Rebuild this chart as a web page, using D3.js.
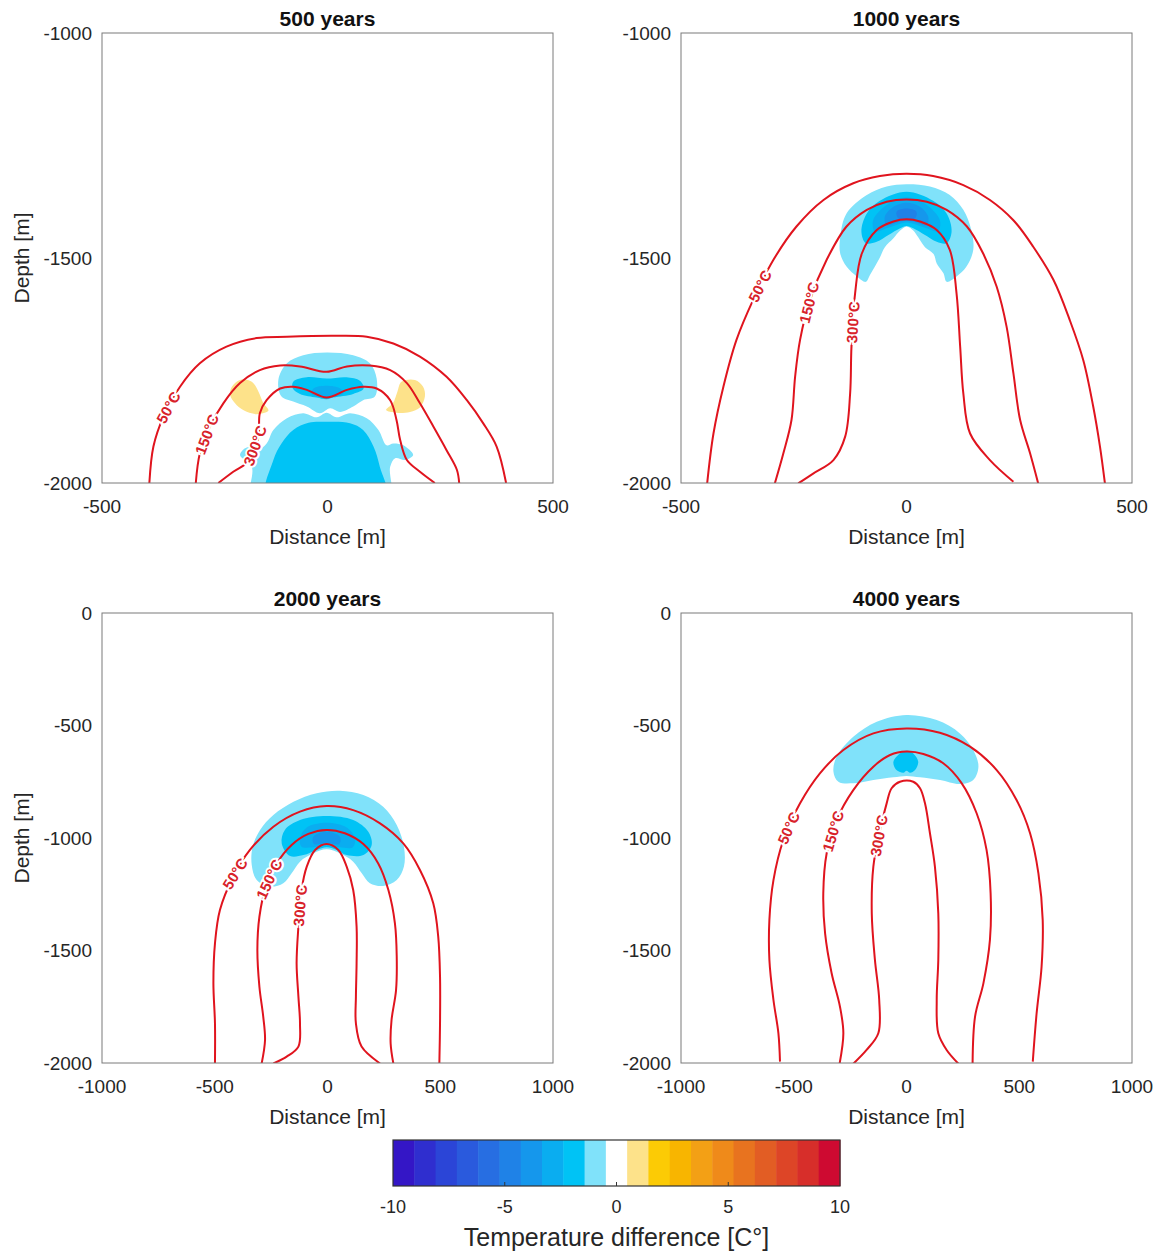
<!DOCTYPE html>
<html>
<head>
<meta charset="utf-8">
<script src="https://cdn.jsdelivr.net/npm/d3@7"></script>
<style>
body { margin: 0; background: #fff; }
svg { font-family: "Liberation Sans", Arial, sans-serif; }
</style>
</head>
<body>
<svg id="fig" width="1164" height="1253"></svg>
<script>
// ---- data (x in m, depth in m) ----
const titles = ['500 years', '1000 years', '2000 years', '4000 years'];
const xDomains = [[-500, 500], [-500, 500], [-1000, 1000], [-1000, 1000]];
const yDomains = [[-2000, -1000], [-2000, -1000], [-2000, 0], [-2000, 0]];
const xTicks = [[-500, 0, 500], [-500, 0, 500], [-1000, -500, 0, 500, 1000], [-1000, -500, 0, 500, 1000]];
const yTicks = [[-2000, -1500, -1000], [-2000, -1500, -1000], [-2000, -1500, -1000, -500, 0], [-2000, -1500, -1000, -500, 0]];
const isoLevels = [50, 150, 300];

// isotherms, 500 years
const c50_y500 = [[-395,-2000],[-386,-1919],[-364,-1853],[-327,-1786],[-283,-1734],[-224,-1697],[-157,-1678],[-90,-1675],[13,-1673],[87,-1675],[146,-1690],[205,-1719],[264,-1764],[309,-1816],[345,-1867],[375,-1919],[396,-2000]];
const c150_y500 = [[-292,-2000],[-283,-1934],[-261,-1875],[-231,-1823],[-194,-1778],[-150,-1749],[-105,-1739],[-61,-1741],[-2,-1753],[43,-1741],[94,-1739],[139,-1749],[176,-1778],[205,-1823],[235,-1875],[264,-1927],[287,-1971],[292,-2000]];
const c300_y500 = [[-242,-2000],[-209,-1975],[-172,-1949],[-153,-1897],[-150,-1845],[-135,-1816],[-105,-1790],[-76,-1786],[-46,-1793],[-2,-1810],[43,-1793],[79,-1786],[109,-1790],[139,-1816],[153,-1860],[161,-1904],[176,-1949],[205,-1975],[238,-2000]];

// isotherms, 1000 years
const c50_y1000 = [[-442,-2001],[-428,-1890],[-406,-1786],[-377,-1682],[-340,-1593],[-295,-1504],[-244,-1430],[-184,-1371],[-118,-1334],[-59,-1318],[0,-1313],[59,-1318],[126,-1338],[185,-1371],[237,-1416],[281,-1475],[326,-1549],[362,-1638],[392,-1727],[414,-1830],[429,-1919],[440,-2001]];
const c150_y1000 = [[-292,-2001],[-273,-1934],[-255,-1860],[-247,-1764],[-236,-1682],[-214,-1593],[-177,-1504],[-133,-1430],[-88,-1393],[-44,-1375],[0,-1370],[45,-1375],[89,-1393],[134,-1430],[170,-1490],[200,-1564],[222,-1653],[237,-1756],[252,-1860],[274,-1934],[292,-2001]];
const c300_y1000 = [[-240,-2001],[-207,-1979],[-162,-1949],[-136,-1897],[-125,-1801],[-122,-1697],[-114,-1579],[-99,-1490],[-66,-1438],[-29,-1419],[0,-1414],[30,-1419],[67,-1438],[96,-1482],[111,-1579],[119,-1697],[126,-1801],[141,-1890],[185,-1949],[237,-1997]];

// isotherms, 2000 years
const c50_y2000 = [[-499,-2002],[-499,-1824],[-506,-1646],[-499,-1468],[-477,-1320],[-418,-1172],[-344,-1053],[-240,-950],[-122,-883],[-4,-858],[114,-876],[233,-935],[336,-1024],[410,-1142],[469,-1290],[491,-1438],[499,-1616],[499,-1824],[496,-2002]];
const c150_y2000 = [[-292,-2002],[-277,-1898],[-285,-1794],[-302,-1661],[-311,-1498],[-302,-1350],[-273,-1216],[-225,-1113],[-159,-1031],[-85,-982],[-4,-964],[77,-979],[159,-1027],[225,-1113],[270,-1231],[299,-1379],[307,-1527],[304,-1676],[284,-1809],[280,-1913],[292,-2002]];
const c300_y2000 = [[-240,-2002],[-181,-1972],[-129,-1927],[-122,-1824],[-129,-1705],[-137,-1557],[-129,-1394],[-115,-1231],[-92,-1127],[-55,-1053],[-4,-1027],[48,-1053],[85,-1127],[114,-1231],[129,-1394],[129,-1557],[126,-1705],[126,-1824],[151,-1927],[233,-2002]];

// isotherms, 4000 years
const c50_y4000 = [[-561,-1994],[-568,-1868],[-590,-1720],[-608,-1542],[-608,-1364],[-590,-1187],[-546,-1009],[-472,-846],[-384,-713],[-280,-609],[-147,-535],[0,-513],[148,-532],[282,-594],[400,-698],[488,-831],[548,-979],[585,-1157],[604,-1364],[599,-1572],[577,-1779],[560,-1994]];
const c150_y4000 = [[-298,-2010],[-280,-1868],[-295,-1750],[-332,-1601],[-361,-1424],[-369,-1246],[-354,-1068],[-310,-920],[-236,-787],[-147,-683],[-73,-631],[0,-616],[75,-627],[163,-668],[245,-757],[311,-890],[355,-1053],[373,-1246],[370,-1453],[341,-1646],[304,-1794],[293,-2010]];
const c300_y4000 = [[-243,-2010],[-177,-1942],[-125,-1868],[-121,-1720],[-140,-1542],[-154,-1335],[-147,-1127],[-117,-964],[-88,-846],[-66,-779],[-29,-750],[30,-750],[60,-779],[82,-846],[104,-979],[126,-1127],[141,-1335],[141,-1542],[134,-1720],[141,-1868],[178,-1942],[237,-2010]];

// isotherm label anchors (near the line, left flank)
const lab_y500 = [[-371,-1822],[-283,-1886],[-152,-1920]];
const lab_y1000 = [[-338,-1556],[-240,-1593],[-85,-1645]];
const lab_y2000 = [[-447,-1135],[-299,-1164],[-55,-1305]];
const lab_y4000 = [[-568,-935],[-369,-957],[-58,-1001]];

// temperature-difference patches (level in C)
const fill_y500 = [
  {level: -1, pts: [[-102,-1808],[-109,-1771],[-90,-1734],[-54,-1716],[-2,-1710],[57,-1716],[94,-1734],[109,-1768],[105,-1808],[79,-1816],[57,-1830],[28,-1842],[6,-1834],[-17,-1845],[-46,-1830],[-76,-1819]]},
  {level: -2, pts: [[-76,-1775],[-46,-1765],[-2,-1768],[42,-1765],[72,-1773],[80,-1790],[57,-1802],[13,-1810],[-2,-1814],[-24,-1810],[-61,-1802],[-77,-1790]]},
  {level: -3, pts: [[-31,-1790],[-2,-1784],[28,-1790],[35,-1801],[-2,-1810],[-35,-1802]]},
  {level: -1, pts: [[-166,-2040],[-168,-1964],[-194,-1938],[-179,-1921],[-157,-1928],[-135,-1912],[-120,-1882],[-90,-1856],[-54,-1845],[-24,-1854],[-2,-1844],[20,-1854],[50,-1845],[87,-1856],[113,-1882],[131,-1916],[146,-1912],[168,-1916],[190,-1938],[172,-1949],[150,-1945],[139,-1964],[135,-2040]]},
  {level: -2, pts: [[-135,-2040],[-120,-1949],[-102,-1912],[-76,-1882],[-42,-1866],[-2,-1864],[50,-1867],[79,-1882],[102,-1919],[116,-1964],[130,-2040]]},
  {level: 1, pts: [[-212,-1786],[-194,-1771],[-168,-1775],[-153,-1797],[-142,-1823],[-131,-1839],[-157,-1847],[-187,-1838],[-205,-1823],[-216,-1804]]},
  {level: 1, pts: [[164,-1775],[194,-1771],[212,-1786],[216,-1808],[205,-1832],[183,-1842],[153,-1844],[130,-1838],[145,-1823],[155,-1797]]}
];
const fill_y1000 = [
  {level: -1, pts: [[-147,-1453],[-133,-1401],[-88,-1360],[-44,-1341],[0,-1336],[52,-1341],[96,-1360],[126,-1393],[144,-1439],[148,-1482],[133,-1519],[111,-1541],[89,-1553],[82,-1534],[67,-1512],[60,-1491],[41,-1476],[26,-1454],[15,-1439],[0,-1430],[-14,-1439],[-29,-1456],[-48,-1476],[-59,-1499],[-70,-1519],[-81,-1538],[-90,-1553],[-110,-1541],[-133,-1519],[-147,-1490]]},
  {level: -2, pts: [[-100,-1441],[-88,-1401],[-59,-1373],[0,-1353],[59,-1373],[89,-1401],[100,-1441],[89,-1467],[67,-1464],[41,-1449],[15,-1434],[0,-1429],[-14,-1434],[-40,-1449],[-66,-1464],[-90,-1467]]},
  {level: -3, pts: [[-74,-1416],[-44,-1382],[0,-1365],[45,-1382],[74,-1416],[70,-1441],[45,-1434],[15,-1424],[0,-1421],[-14,-1424],[-44,-1434],[-70,-1441]]},
  {level: -4, pts: [[-48,-1408],[-29,-1386],[0,-1377],[30,-1386],[48,-1408],[45,-1427],[15,-1419],[0,-1417],[-14,-1419],[-44,-1427]]},
  {level: -5, pts: [[-22,-1397],[0,-1390],[22,-1397],[19,-1412],[0,-1416],[-18,-1412]]}
];
const fill_y2000 = [
  {level: -1, pts: [[-336,-1120],[-332,-1039],[-299,-964],[-240,-898],[-151,-839],[-48,-801],[55,-790],[159,-809],[247,-861],[307,-942],[339,-1039],[339,-1127],[307,-1187],[247,-1213],[188,-1201],[152,-1157],[114,-1105],[55,-1068],[-4,-1050],[-63,-1068],[-122,-1105],[-159,-1157],[-196,-1201],[-255,-1216],[-314,-1187]]},
  {level: -2, pts: [[-203,-1024],[-189,-964],[-122,-920],[-4,-902],[114,-920],[181,-972],[196,-1031],[159,-1076],[85,-1076],[41,-1053],[-4,-1041],[-48,-1053],[-107,-1076],[-166,-1080]]},
  {level: -3, pts: [[-122,-1001],[-92,-953],[-4,-932],[85,-953],[122,-1001],[112,-1041],[55,-1041],[-4,-1031],[-63,-1041],[-115,-1039]]},
  {level: -4, pts: [[-63,-994],[-4,-972],[55,-994],[52,-1027],[-4,-1021],[-60,-1027]]}
];
const fill_y4000 = [
  {level: -1, pts: [[-324,-705],[-310,-639],[-236,-550],[-132,-483],[0,-453],[134,-476],[237,-535],[296,-609],[319,-683],[296,-742],[237,-760],[149,-742],[60,-730],[0,-724],[-58,-730],[-147,-742],[-236,-757],[-302,-750]]},
  {level: -2, pts: [[-58,-661],[-29,-624],[0,-612],[30,-624],[52,-661],[38,-698],[16,-710],[0,-701],[-14,-710],[-47,-695]]}
];

// colour bar
const cbarColors = ['#3416C6','#2F2ECF','#2B45D7','#2A5ADD','#276EE2','#1F82E7','#1597EC','#0AADF0','#00C3F5','#80E2FA','#FFFFFF','#FDE28A','#FCCB05','#F8B500','#F3A015','#EF8A1A','#E8731F','#E25D24','#DD4527','#D72E2A','#CE0A31'];
const cbarTicks = [-10, -5, 0, 5, 10];

// ---- drawing ----
const svg = d3.select('#fig');
const panelW = 451, panelH = 450;
const panelPos = [[102, 33], [681, 33], [102, 613], [681, 613]];
const lineColor = '#E0141E';
const textColor = '#262626';

const colorOf = d3.scaleQuantize().domain([-10, 10]).range(cbarColors);

const panels = [
  {iso: [c50_y500, c150_y500, c300_y500], labs: lab_y500, fills: fill_y500},
  {iso: [c50_y1000, c150_y1000, c300_y1000], labs: lab_y1000, fills: fill_y1000},
  {iso: [c50_y2000, c150_y2000, c300_y2000], labs: lab_y2000, fills: fill_y2000},
  {iso: [c50_y4000, c150_y4000, c300_y4000], labs: lab_y4000, fills: fill_y4000}
];

// closest point on polyline (screen coords) + direction of that segment
function nearestOnLine(pts, p) {
  let best = null;
  for (let i = 0; i < pts.length - 1; i++) {
    const a = pts[i], b = pts[i + 1];
    const dx = b[0] - a[0], dy = b[1] - a[1];
    let t = ((p[0] - a[0]) * dx + (p[1] - a[1]) * dy) / (dx * dx + dy * dy);
    t = Math.max(0, Math.min(1, t));
    const q = [a[0] + t * dx, a[1] + t * dy];
    const dist = Math.hypot(q[0] - p[0], q[1] - p[1]);
    if (!best || dist < best.dist) {
      let ang = Math.atan2(dy, dx) * 180 / Math.PI;
      if (ang >= 90) ang -= 180;
      if (ang < -90) ang += 180;
      best = {q: q, dist: dist, ang: ang};
    }
  }
  return best;
}

panels.forEach((p, i) => {
  const [left, top] = panelPos[i];
  const x = d3.scaleLinear().domain(xDomains[i]).range([0, panelW]);
  const y = d3.scaleLinear().domain(yDomains[i]).range([panelH, 0]);

  const g = svg.append('g').attr('transform', `translate(${left},${top})`);

  g.append('clipPath').attr('id', 'clip' + i)
    .append('rect').attr('width', panelW).attr('height', panelH);

  const inner = g.append('g').attr('clip-path', `url(#clip${i})`);

  const area = d3.line().x(d => x(d[0])).y(d => y(d[1])).curve(d3.curveCatmullRomClosed.alpha(0.5));
  inner.selectAll('.patch')
    .data(p.fills)
    .join('path')
    .attr('class', 'patch')
    .attr('d', d => area(d.pts))
    .attr('fill', d => colorOf(d.level))
    .attr('stroke', 'none');

  const line = d3.line().x(d => x(d[0])).y(d => y(d[1])).curve(d3.curveCatmullRom.alpha(0.5));
  inner.selectAll('.iso')
    .data(p.iso)
    .join('path')
    .attr('class', 'iso')
    .attr('d', d => line(d))
    .attr('fill', 'none')
    .attr('stroke', lineColor)
    .attr('stroke-width', 2);

  // isotherm labels
  p.labs.forEach((lp, k) => {
    const scr = p.iso[k].map(d => [x(d[0]), y(d[1])]);
    const hit = nearestOnLine(scr, [x(lp[0]), y(lp[1])]);
    inner.append('text')
      .attr('transform', `translate(${hit.q[0]},${hit.q[1]}) rotate(${hit.ang})`)
      .attr('text-anchor', 'middle')
      .attr('dy', '0.35em')
      .style('font-size', '15px')
      .style('font-weight', 'bold')
      .style('fill', '#D8222A')
      .style('stroke', '#fff')
      .style('stroke-width', 4)
      .style('paint-order', 'stroke')
      .text(isoLevels[k] + '°C');
  });

  // box
  g.append('rect')
    .attr('width', panelW).attr('height', panelH)
    .attr('fill', 'none').attr('stroke', '#7a7a7a').attr('stroke-width', 1);

  // tick labels
  g.selectAll('.xt')
    .data(xTicks[i])
    .join('text')
    .attr('class', 'xt')
    .attr('x', d => x(d)).attr('y', panelH + 30)
    .attr('text-anchor', 'middle')
    .style('font-size', '19px').style('fill', textColor)
    .text(d => d);

  g.selectAll('.yt')
    .data(yTicks[i])
    .join('text')
    .attr('class', 'yt')
    .attr('x', -10).attr('y', d => y(d)).attr('dy', '0.35em')
    .attr('text-anchor', 'end')
    .style('font-size', '19px').style('fill', textColor)
    .text(d => d);

  g.append('text')
    .attr('x', panelW / 2).attr('y', panelH + 61)
    .attr('text-anchor', 'middle')
    .style('font-size', '21px').style('fill', textColor)
    .text('Distance [m]');

  if (i % 2 === 0) {
    g.append('text')
      .attr('transform', `translate(-73,${panelH / 2}) rotate(-90)`)
      .attr('text-anchor', 'middle')
      .style('font-size', '21px').style('fill', textColor)
      .text('Depth [m]');
  }

  g.append('text')
    .attr('x', panelW / 2).attr('y', -7)
    .attr('text-anchor', 'middle')
    .style('font-size', '21px').style('font-weight', 'bold').style('fill', '#111')
    .text(titles[i]);
});

// colour bar
const cbLeft = 393, cbRight = 840, cbTop = 1140, cbH = 46;
const cx = d3.scaleLinear().domain([-10, 10]).range([cbLeft, cbRight]);
const step = 20 / cbarColors.length;
const cb = svg.append('g');
cb.selectAll('.seg')
  .data(cbarColors)
  .join('rect')
  .attr('class', 'seg')
  .attr('x', (d, k) => cx(-10 + k * step))
  .attr('width', (d, k) => cx(-10 + (k + 1) * step) - cx(-10 + k * step) + 0.5)
  .attr('y', cbTop).attr('height', cbH)
  .attr('fill', d => d);
cb.append('rect')
  .attr('x', cbLeft).attr('y', cbTop).attr('width', cbRight - cbLeft).attr('height', cbH)
  .attr('fill', 'none').attr('stroke', '#333').attr('stroke-width', 1.2);
cb.selectAll('.cbt')
  .data(cbarTicks.slice(1, -1))
  .join('line')
  .attr('class', 'cbt')
  .attr('x1', d => cx(d)).attr('x2', d => cx(d))
  .attr('y1', cbTop + cbH - 4).attr('y2', cbTop + cbH)
  .attr('stroke', '#333');
cb.selectAll('.cbl')
  .data(cbarTicks)
  .join('text')
  .attr('class', 'cbl')
  .attr('x', d => cx(d)).attr('y', cbTop + cbH + 27)
  .attr('text-anchor', 'middle')
  .style('font-size', '18px').style('fill', textColor)
  .text(d => d);
cb.append('text')
  .attr('x', cx(0)).attr('y', 1246)
  .attr('text-anchor', 'middle')
  .style('font-size', '25px').style('fill', textColor)
  .text('Temperature difference [C°]');
</script>
</body>
</html>
